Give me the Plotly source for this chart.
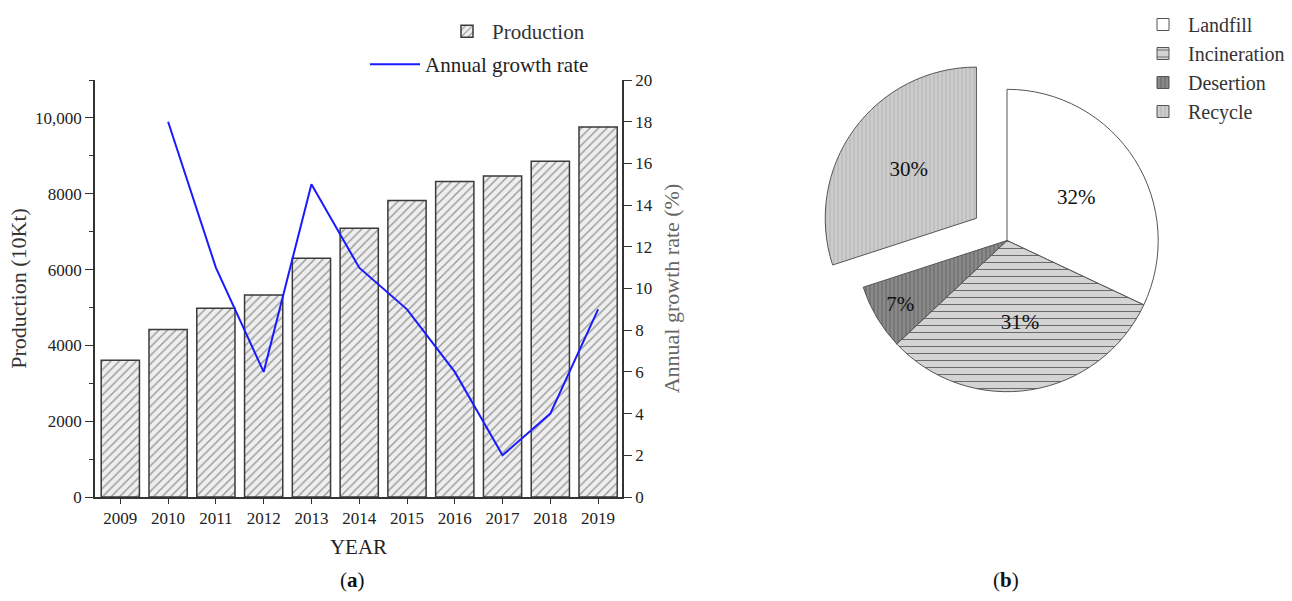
import plotly.graph_objects as go

years = [2009, 2010, 2011, 2012, 2013, 2014, 2015, 2016, 2017, 2018, 2019]
production = [3610, 4420, 4980, 5330, 6300, 7090, 7820, 8320, 8470, 8860, 9760]
growth_years = [2010, 2011, 2012, 2013, 2014, 2015, 2016, 2017, 2018, 2019]
growth_rate = [18, 11, 6, 15, 11, 9, 6, 2, 4, 9]

prod_tickvals = [0, 2000, 4000, 6000, 8000, 10000]
prod_ticktext = ["0", "2000", "4000", "6000", "8000", "10,000"]
rate_tickvals = [0, 2, 4, 6, 8, 10, 12, 14, 16, 18, 20]

pie_labels = ["Landfill", "Incineration", "Desertion", "Recycle"]
pie_values = [32, 31, 7, 30]
pie_pull = [0, 0, 0, 0.25]

SERIF = "Liberation Serif, Times New Roman, serif"
W, H = 1292, 601

def px(x):
    return x / W

def py(y):
    return 1 - y / H

fig = go.Figure()

fig.add_trace(go.Bar(
    x=years, y=production, name="Production",
    marker=dict(color="#eeeeee",
                line=dict(color="#3a3a3a", width=1.5),
                pattern=dict(shape="/", fgcolor="#444444", bgcolor="#eeeeee",
                             size=6, solidity=0.24)),
    legend="legend", showlegend=True, xaxis="x", yaxis="y",
))

fig.add_trace(go.Scatter(
    x=growth_years, y=growth_rate, name="Annual growth rate",
    mode="lines", line=dict(color="#1a1aff", width=2),
    legend="legend2", showlegend=True, xaxis="x", yaxis="y2",
))

fig.add_trace(go.Pie(
    labels=pie_labels, values=pie_values, pull=pie_pull,
    sort=False, direction="clockwise", rotation=0,
    texttemplate="%{value}%", textposition="inside",
    insidetextorientation="horizontal",
    textfont=dict(family=SERIF, size=21, color="#111111"),
    marker=dict(
        colors=["#ffffff", "#d4d4d4", "#8a8a8a", "#cccccc"],
        line=dict(color="#555555", width=1),
        pattern=dict(shape=["", "-", "|", "|"],
                     fgcolor=["#ffffff", "#6a6a6a", "#6a6a6a", "#b8b8b8"],
                     bgcolor=["#ffffff", "#d4d4d4", "#8a8a8a", "#cccccc"],
                     size=[8, 7, 4, 4], solidity=[0.1, 0.15, 0.3, 0.3]),
    ),
    domain=dict(x=[px(818), px(1196)], y=[py(434), py(47)]),
    legend="legend3", showlegend=True,
))

axis_font = dict(family=SERIF, size=17, color="#222222")
common_axis = dict(
    ticks="outside", tickwidth=1.2, tickcolor="#333333",
    showline=True, linecolor="#333333", linewidth=1.5,
    showgrid=False, zeroline=False, automargin=False,
    tickfont=axis_font,
)

fig.update_layout(
    width=W, height=H,
    margin=dict(l=0, r=0, t=0, b=0, autoexpand=False),
    paper_bgcolor="white", plot_bgcolor="white",
    font=dict(family=SERIF, size=17, color="#222222"),
    showlegend=True,
    bargap=0.2,
    xaxis=dict(
        domain=[px(95), px(622)],
        range=[2008.47, 2019.5],
        tickvals=years, ticktext=[str(y) for y in years],
        ticklen=5,
        title=dict(text="YEAR", font=dict(family=SERIF, size=21, color="#222222"), standoff=12),
        **common_axis,
    ),
    yaxis=dict(
        domain=[py(497), py(80)],
        range=[0, 11000],
        tickvals=prod_tickvals, ticktext=prod_ticktext,
        ticklen=8,
        minor=dict(dtick=1000, tick0=1000, ticks="outside", ticklen=4, tickcolor="#333333"),
        title=dict(text="Production (10Kt)", font=dict(family=SERIF, size=22, color="#333333"), standoff=2),
        **common_axis,
    ),
    yaxis2=dict(
        overlaying="y", side="right", anchor="x",
        range=[0, 20],
        tickvals=rate_tickvals,
        ticklen=8,
        title=dict(text="Annual growth rate (%)", font=dict(family=SERIF, size=22, color="#666666"), standoff=12),
        **common_axis,
    ),
    legend=dict(
        x=px(590), y=py(11), xanchor="right", yanchor="top",
        font=dict(family=SERIF, size=21, color="#333333"),
        bgcolor="rgba(0,0,0,0)", itemwidth=40,
    ),
    legend2=dict(
        x=px(594), y=py(44), xanchor="right", yanchor="top",
        font=dict(family=SERIF, size=21, color="#222222"),
        bgcolor="rgba(0,0,0,0)", itemwidth=50,
    ),
    legend3=dict(
        x=px(1138), y=py(5), xanchor="left", yanchor="top",
        font=dict(family=SERIF, size=20, color="#333333"),
        bgcolor="rgba(0,0,0,0)", tracegroupgap=0, itemwidth=40,
    ),
    annotations=[
        dict(text="(<b>a</b>)", x=px(352), y=py(580), xref="paper", yref="paper",
             xanchor="center", yanchor="middle",
             showarrow=False, font=dict(family=SERIF, size=21, color="#111111")),
        dict(text="(<b>b</b>)", x=px(1006), y=py(580), xref="paper", yref="paper",
             xanchor="center", yanchor="middle",
             showarrow=False, font=dict(family=SERIF, size=21, color="#111111")),
    ],
)

fig.write_html("out.html")
